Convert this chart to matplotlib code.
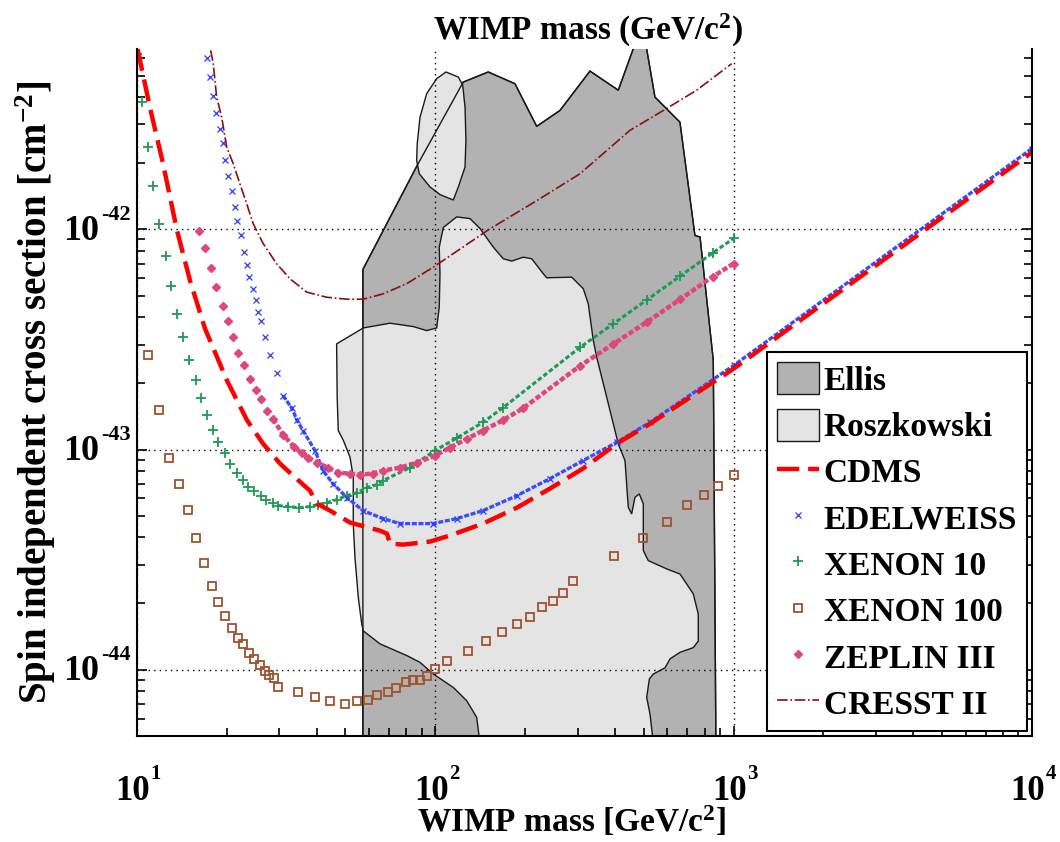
import numpy as np
import matplotlib

matplotlib.use('Agg')
import matplotlib.pyplot as plt
from matplotlib.ticker import NullFormatter

plt.rcParams['font.family'] = ['Liberation Serif', 'DejaVu Serif']
plt.rcParams['font.weight'] = 'bold'
plt.rcParams['mathtext.fontset'] = 'custom'
plt.rcParams['mathtext.rm'] = 'Liberation Serif:bold'
plt.rcParams['mathtext.it'] = 'Liberation Serif:bold'
plt.rcParams['mathtext.bf'] = 'Liberation Serif:bold'
plt.rcParams['mathtext.default'] = 'bf'

# ================ data (WIMP mass [GeV], cross section [cm^2]) ================
# Ellis region (dark)
ellis_m = [57.2, 57.2, 86.9, 124.1, 150.5, 185, 218.7, 261.8, 330, 410.6, 485, 499,
           545, 661, 742, 772, 855, 873]
ellis_s = [4e-45, 6.58e-43, 1.95e-42, 4.67e-42, 5.19e-42, 4.59e-42, 2.94e-42, 3.47e-42,
           5.24e-42, 4.29e-42, 8e-42, 8e-42, 3.99e-42, 3.07e-42, 9.39e-43, 9.23e-43,
           2.54e-43, 4e-45]

# Roszkowski region (light), main part
rosz_m = [46.7, 57.4, 70.5, 84.4, 93.6, 101.1, 103.1, 103.7, 103.1, 106.4, 118, 130.7,
          141.2, 156.5, 169, 180.4, 197.2, 210.5, 230.2, 236.3, 286.6, 313.4, 325.8,
          338.6, 347.6, 375.5, 410.7, 432.5, 443.6, 455.3, 467.1, 483, 498.1, 498.1,
          517.6, 596.8, 661.3, 732.6, 761.5, 761.5, 732.6, 661.3, 612.2, 589, 538.1,
          521.8, 511.4, 524.6, 545.1, 143.1, 137.7, 127.5, 114.9, 98.5, 88.9, 80.2,
          65.3, 57.4, 56.7, 55.2, 53.8, 53.1, 53.1, 51.8, 49.2, 47.3, 46.9]
rosz_s = [3.02e-43, 3.57e-43, 3.75e-43, 3.62e-43, 3.47e-43, 3.57e-43, 4.43e-43, 6.29e-43,
          8.31e-43, 1.02e-42, 1.14e-42, 1.12e-42, 1.01e-42, 8.31e-43, 7.36e-43, 7.18e-43,
          7.48e-43, 7.36e-43, 6.29e-43, 6.03e-43, 6.07e-43, 5.38e-43, 4.59e-43, 3.13e-43,
          2.63e-43, 1.73e-43, 1.06e-43, 8.91e-44, 5.47e-44, 5.1e-44, 6.07e-44, 6.29e-44,
          5.66e-44, 3.48e-44, 3.13e-44, 2.87e-44, 2.72e-44, 2.21e-44, 1.79e-44, 1.35e-44,
          1.26e-44, 1.2e-44, 1.12e-44, 1.02e-44, 9.56e-45, 9.07e-45, 7.48e-45, 6.29e-45,
          4e-45, 4e-45, 6.07e-45, 7.23e-45, 8.31e-45, 9.56e-45, 1.08e-44, 1.16e-44,
          1.31e-44, 1.5e-44, 1.61e-44, 2.13e-44, 3.24e-44, 4.59e-44, 7.48e-44, 9.23e-44,
          1.1e-43, 1.22e-43, 1.73e-43]
# Roszkowski region, upper island
island_m = [108.6, 119.5, 123.6, 125.8, 126.7, 125.8, 119.5, 114.9, 103.7, 96, 88.4,
            86.6, 87, 88.9, 93.6, 101.1]
island_s = [5.19e-42, 4.92e-42, 4.52e-42, 3.6e-42, 2.54e-42, 1.92e-42, 1.56e-42,
            1.36e-42, 1.44e-42, 1.56e-42, 1.79e-42, 2.06e-42, 2.45e-42, 3.24e-42,
            4.14e-42, 4.84e-42]

cdms_m = [10.05, 11.05, 12.22, 13.62, 15.06, 16.9, 20.03, 23.38, 26.45, 30.16, 33.34,
          38.0, 40.1, 44.4, 51.8, 65.3, 68.9, 70.5, 78, 96, 112, 144.5, 188, 242.4,
          312.6, 406.5, 524.7, 1000, 10000]
cdms_s = [6.6e-42, 3.59e-42, 2e-42, 9.9e-43, 5.86e-43, 3.55e-43, 2.06e-43, 1.36e-43,
          1.065e-43, 8.64e-44, 7.62e-44, 6.51e-44, 5.68e-44, 5.28e-44, 4.66e-44, 4.28e-44,
          4.15e-44, 3.74e-44, 3.7e-44, 3.82e-44, 4.07e-44, 4.61e-44, 5.45e-44, 6.65e-44,
          8.2e-44, 1.065e-43, 1.31e-43, 2.33e-43, 2.24e-42]

edw_m = [17.17, 17.57, 17.98, 18.4, 18.98, 19.42, 19.72, 20.19, 20.82, 21.31, 21.64,
         22.32, 22.84, 23.38, 23.74, 24.48, 25.06, 25.45, 26.04, 26.86, 27.92, 29.47,
         30.86, 33.08, 34.39, 36.02, 39.52, 42.03, 45.41, 50.58, 57.23, 66.78, 76.1,
         98.2, 118.2, 144.5, 188, 242.4, 312.6, 406.5, 524.7, 1000, 10000]
edw_s = [5.98e-42, 4.91e-42, 4.02e-42, 3.37e-42, 2.85e-42, 2.46e-42, 2.06e-42, 1.74e-42,
         1.49e-42, 1.27e-42, 1.09e-42, 9.39e-43, 7.86e-43, 6.86e-43, 6.05e-43, 5.34e-43,
         4.76e-43, 4.2e-43, 3.82e-43, 3.23e-43, 2.68e-43, 2.22e-43, 1.76e-43, 1.54e-43,
         1.36e-43, 1.22e-43, 9.9e-44, 8.03e-44, 7.0e-44, 6.05e-44, 5.28e-44, 4.86e-44,
         4.61e-44, 4.61e-44, 4.86e-44, 5.28e-44, 6.18e-44, 7.38e-44, 8.91e-44, 1.08e-43,
         1.33e-43, 2.41e-43, 2.33e-42]

xe10_m = [10.0, 10.39, 10.89, 11.31, 11.85, 12.51, 13.0, 13.62, 14.26, 14.94, 15.77,
          16.39, 17.17, 17.98, 18.69, 19.72, 20.5, 21.64, 22.67, 23.55, 24.67, 26.04,
          27.07, 28.58, 29.7, 32.08, 34.9, 38.0, 40.45, 43.35, 46.82, 50.58, 54.65,
          59.02, 63.76, 66.78, 82.27, 99.8, 118.2, 144.5, 168.7, 305.5, 394.2, 512.5,
          661.3, 853, 1000]
xe10_s = [6.24e-42, 3.78e-42, 2.38e-42, 1.57e-42, 1.06e-42, 7.61e-43, 5.51e-43, 4.15e-43,
          3.23e-43, 2.54e-43, 2.06e-43, 1.71e-43, 1.44e-43, 1.23e-43, 1.08e-43, 9.6e-44,
          8.64e-44, 7.86e-44, 7.31e-44, 6.79e-44, 6.45e-44, 6.18e-44, 5.93e-44, 5.74e-44,
          5.57e-44, 5.51e-44, 5.45e-44, 5.51e-44, 5.62e-44, 5.74e-44, 5.93e-44, 6.18e-44,
          6.37e-44, 6.72e-44, 6.93e-44, 7.23e-44, 8.28e-44, 9.9e-44, 1.13e-43, 1.33e-43,
          1.55e-43, 2.91e-43, 3.72e-43, 4.79e-43, 6.13e-43, 7.84e-43, 9.1e-43]

xe100_m = [10.91, 11.85, 12.83, 13.83, 14.83, 15.77, 16.78, 17.8, 18.73, 19.77, 20.82,
           21.86, 22.72, 23.74, 24.73, 25.85, 26.86, 27.77, 28.86, 29.77, 34.73, 39.6,
           44.4, 49.7, 54.5, 59.6, 64.0, 69.6, 74.0, 79.6, 84.4, 88.9, 94.0, 99.8, 109.2,
           128.5, 147.9, 167.7, 188, 207.8, 228, 247.5, 268.6, 288.8, 396.3, 495.8, 596.8,
           696.5, 794, 888.6, 1000]
xe100_s = [2.7e-43, 1.52e-43, 9.13e-44, 7.0e-44, 5.32e-44, 3.97e-44, 3.04e-44, 2.4e-44,
           2.03e-44, 1.75e-44, 1.54e-44, 1.4e-44, 1.31e-44, 1.19e-44, 1.12e-44, 1.05e-44,
           9.9e-45, 9.49e-45, 9.13e-45, 8.38e-45, 7.94e-45, 7.48e-45, 7.18e-45, 6.98e-45,
           7.18e-45, 7.28e-45, 7.68e-45, 7.94e-45, 8.22e-45, 8.76e-45, 8.98e-45, 8.98e-45,
           9.39e-45, 1.01e-44, 1.09e-44, 1.21e-44, 1.35e-44, 1.49e-44, 1.62e-44, 1.74e-44,
           1.92e-44, 2.06e-44, 2.24e-44, 2.54e-44, 3.3e-44, 3.97e-44, 4.67e-44, 5.6e-44,
           6.25e-44, 6.81e-44, 7.7e-44]

zep_m = [16.14, 16.9, 17.7, 18.4, 19.42, 20.19, 20.98, 21.81, 22.84, 23.93, 25.06, 26.04,
         27.28, 28.58, 30.86, 33.6, 35.73, 37.43, 40.1, 43.69, 47.19, 51.76, 55.9, 61.8,
         66.78, 76.1, 86.9, 99.8, 112, 127.8, 144.5, 168.7, 196.8, 305.5, 394.2, 512.5,
         661.3, 853, 1000]
zep_s = [9.8e-43, 8.2e-43, 6.65e-43, 5.45e-43, 4.51e-43, 3.82e-43, 3.23e-43, 2.76e-43,
         2.41e-43, 2.1e-43, 1.87e-43, 1.69e-43, 1.5e-43, 1.38e-43, 1.17e-43, 1.03e-43,
         9.6e-44, 9.2e-44, 8.73e-44, 8.28e-44, 7.86e-44, 7.78e-44, 7.7e-44, 7.78e-44,
         8.03e-44, 8.28e-44, 8.73e-44, 9.39e-44, 1.02e-43, 1.12e-43, 1.22e-43, 1.36e-43,
         1.54e-43, 2.4e-43, 3.01e-43, 3.8e-43, 4.81e-43, 6.11e-43, 7.0e-43]

cresst_m = [17.66, 18.02, 18.5, 19.23, 19.98, 21.02, 22.14, 23.32, 24.54, 26.51, 29.4,
            32.58, 37.07, 43.25, 50.47, 57.36, 66.93, 80.2, 98.5, 152.6, 218.7, 305.5,
            449.5, 581.4, 752, 985]
cresst_s = [6.51e-42, 5.66e-42, 3.99e-42, 3.24e-42, 2.37e-42, 1.99e-42, 1.61e-42,
            1.31e-42, 1.06e-42, 8.61e-43, 6.98e-43, 5.97e-43, 5.19e-43, 4.92e-43, 4.82e-43,
            4.82e-43, 5.1e-43, 5.67e-43, 6.74e-43, 1.007e-42, 1.35e-42, 1.79e-42, 2.82e-42,
            3.47e-42, 4.29e-42, 5.66e-42]

x_exps = [1, 2, 3, 4]
y_exps = [-44, -43, -42]

# ==============================================================================
Figure = plt.figure(figsize=(10.6, 8.42), dpi=100)
ax = Figure.add_axes([0.1292, 0.1259, 0.8443, 0.8159])
ax.set_xscale('log')
ax.set_yscale('log')
ax.set_xlim(10, 1e4)
ax.set_ylim(5e-45, 6.6e-42)

edge = '#1a1a1a'
h_ellis = ax.fill(ellis_m, ellis_s, facecolor='#b2b2b2', edgecolor=edge, lw=1.0,
                  zorder=1, label='Ellis')[0]
h_rosz = ax.fill(rosz_m, rosz_s, facecolor='#e4e4e4', edgecolor=edge, lw=1.0,
                 zorder=1.1, label='Roszkowski')[0]
ax.fill(island_m, island_s, facecolor='#e4e4e4', edgecolor=edge, lw=1.0, zorder=1.1)
# outline of the Ellis region stays visible on top of the light region
ax.fill(ellis_m, ellis_s, fill=False, edgecolor=edge, lw=1.0, zorder=1.2)

ax.set_axisbelow('line')
ax.grid(True, which='major', ls=(0, (1, 3)), color='k', lw=1.0)

# dense marker series: a line through the read points fills the gaps
ax.plot(xe10_m[24:], xe10_s[24:], color='#1f9a55', lw=2.2, ls=(0, (1.5, 0.8)), zorder=2)
ax.plot(zep_m[13:], zep_s[13:], color='#e0457b', lw=3.2, ls=(0, (1.2, 0.5)), zorder=2)
ax.plot(edw_m[22:], edw_s[22:], color='#3a4cff', lw=2.4, ls=(0, (1.5, 0.5)), zorder=2)

h_xe10, = ax.plot(xe10_m, xe10_s, '+', color='#1f9a55', ms=7, mew=1.3, zorder=2.1,
                  label='XENON 10')
h_zep, = ax.plot(zep_m, zep_s, 'D', color='#e0457b', ms=4.5, mec='#e0457b', zorder=2.1,
                 label='ZEPLIN III')
h_edw, = ax.plot(edw_m, edw_s, 'x', color='#2a3cff', ms=4, mew=0.9, zorder=2.2,
                 label='EDELWEISS')
h_xe100, = ax.plot(xe100_m, xe100_s, 's', mfc='none', mec='#a0522d', ms=6, mew=1.3,
                   ls='none', zorder=2.3, label='XENON 100')
h_cresst, = ax.plot(cresst_m, cresst_s, color='#8b1010', lw=1.2, ls='-.', zorder=2.3,
                    label='CRESST II')
h_cdms, = ax.plot(cdms_m, cdms_s, color='#ff0000', lw=3.2, dashes=(5, 2), zorder=2.4,
                  label='CDMS')

ax.spines['top'].set_visible(False)
for sp in ['left', 'right', 'bottom']:
    ax.spines[sp].set_linewidth(1.5)
ax.set_xticks([10.0 ** e for e in x_exps])
ax.set_yticks([10.0 ** e for e in y_exps])
for axis in [ax.xaxis, ax.yaxis]:
    axis.set_major_formatter(NullFormatter())
    axis.set_minor_formatter(NullFormatter())
ax.tick_params(which='both', direction='in', top=False, right=True, width=1.2)
ax.tick_params(which='major', length=7)
ax.tick_params(which='minor', length=6)

# tick labels in the "10 with raised exponent" style
for e in x_exps:
    ax.annotate('10', xy=(10.0 ** e, 0), xycoords=('data', 'axes fraction'),
                xytext=(-3, -40), textcoords='offset points', ha='center', va='center',
                fontsize=25, fontweight='bold', annotation_clip=False)
    ax.annotate('%d' % e, xy=(10.0 ** e, 0), xycoords=('data', 'axes fraction'),
                xytext=(10, -31), textcoords='offset points', ha='left', va='baseline',
                fontsize=15, fontweight='bold', annotation_clip=False)
for e in y_exps:
    ax.annotate('10', xy=(0, 10.0 ** e), xycoords=('axes fraction', 'data'),
                xytext=(-27, -1.5), textcoords='offset points', ha='right', va='center',
                fontsize=26, fontweight='bold', annotation_clip=False)
    ax.annotate('%d' % e, xy=(0, 10.0 ** e), xycoords=('axes fraction', 'data'),
                xytext=(-26, 7), textcoords='offset points', ha='left', va='baseline',
                fontsize=16, fontweight='bold', annotation_clip=False)

ax.set_xlabel('WIMP mass [GeV/c$^2$]', fontsize=24, fontweight='bold')
ax.xaxis.set_label_coords(0.486, -0.1)
ax.set_ylabel('Spin independent cross section [cm$^{-2}$]', fontsize=28,
              fontweight='bold')
ax.yaxis.set_label_coords(-0.088, 0.5)
ax.set_title('WIMP mass (GeV/c$^2$)', fontsize=24, fontweight='bold', pad=6, x=0.504)

leg = ax.legend(handles=[h_ellis, h_rosz, h_cdms, h_edw, h_xe10, h_xe100, h_zep, h_cresst],
                loc='lower right', fontsize=24, frameon=True, fancybox=False,
                edgecolor='k', framealpha=1, handlelength=1.25, handleheight=1.1,
                handletextpad=0.15, labelspacing=0.36, borderaxespad=0.15,
                borderpad=0.3)
leg.get_frame().set_linewidth(1.5)
leg.set_zorder(5)

Figure.savefig('out.png', dpi=100)
